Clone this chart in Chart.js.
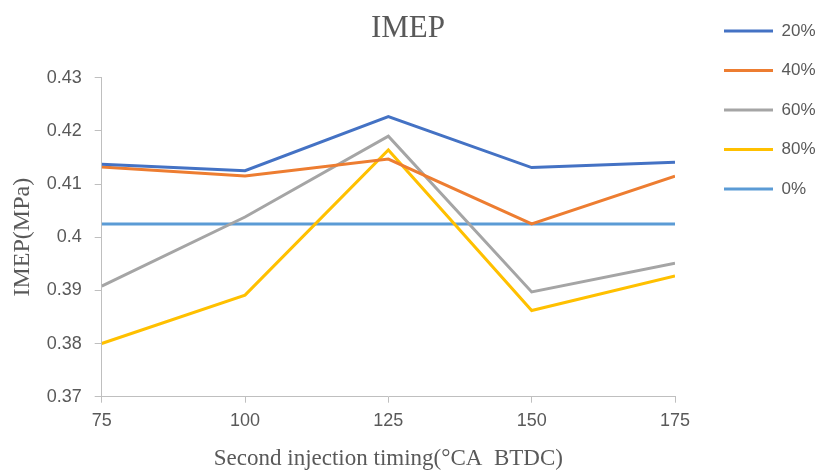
<!DOCTYPE html>
<html>
<head>
<meta charset="utf-8">
<script src="https://cdn.jsdelivr.net/npm/chart.js@4"></script>
<style>
  body { margin: 0; background: #fff; }
</style>
</head>
<body>
<canvas id="chart" width="816" height="473"></canvas>
<script>
var timing = [75, 100, 125, 150, 175];
var imep20 = [0.4137, 0.4125, 0.4227, 0.4131, 0.4141];
var imep40 = [0.4132, 0.4115, 0.4147, 0.4025, 0.4115];
var imep60 = [0.3908, 0.4038, 0.4190, 0.3897, 0.3951];
var imep80 = [0.3800, 0.3891, 0.4164, 0.3862, 0.3927];
var imep0 = [0.4025, 0.4025, 0.4025, 0.4025, 0.4025];
var xTicks = [75, 100, 125, 150, 175];
var yTicks = [0.37, 0.38, 0.39, 0.4, 0.41, 0.42, 0.43];

var sans = "'Liberation Sans', Arial, sans-serif";
var serif = "'Liberation Serif', 'Times New Roman', serif";

function points(arr) {
  return timing.map(function (t, i) {
    return { x: t, y: arr[i] };
  });
}

function series(label, arr, color) {
  return {
    label: label,
    data: points(arr),
    borderColor: color,
    backgroundColor: color,
    borderWidth: 3,
    pointRadius: 0,
    tension: 0,
  };
}

var ctx = document.getElementById("chart").getContext("2d");

const chart = new Chart(ctx, {
  type: "line",
  data: {
    datasets: [
      series("20%", imep20, "#4472C4"),
      series("40%", imep40, "#ED7D31"),
      series("60%", imep60, "#A5A5A5"),
      series("80%", imep80, "#FFC000"),
      series("0%", imep0, "#5B9BD5"),
    ],
  },
  options: {
    responsive: false,
    animation: false,
    layout: { padding: 0 },
    plugins: {
      title: {
        display: true,
        text: "IMEP",
        color: "#595959",
        font: { family: serif, size: 31, weight: "normal" },
        padding: { top: 10.2, bottom: 30.3 },
      },
      legend: {
        position: "right",
        align: "start",
        maxWidth: 114.5,
        labels: {
          usePointStyle: true,
          pointStyle: "line",
          pointStyleWidth: 49,
          boxHeight: 17,
          padding: 22.5,
          color: "#595959",
          font: { family: sans, size: 17 },
        },
      },
      tooltip: { enabled: false },
    },
    scales: {
      x: {
        type: "linear",
        min: 75,
        max: 175,
        afterBuildTicks: function (s) {
          s.ticks = xTicks.map(function (v) { return { value: v }; });
        },
        afterFit: function (s) { s.height = 76.3; },
        ticks: {
          color: "#595959",
          font: { family: sans, size: 18 },
          padding: 8,
          maxRotation: 0,
        },
        grid: {
          drawOnChartArea: false,
          drawTicks: true,
          tickLength: 6,
          color: "#BFBFBF",
        },
        border: { color: "#BFBFBF" },
        title: {
          display: true,
          text: "Second injection timing(°CA  BTDC)",
          color: "#595959",
          font: { family: serif, size: 23 },
          padding: { top: 13, bottom: 0 },
        },
      },
      y: {
        min: 0.37,
        max: 0.43,
        afterBuildTicks: function (s) {
          s.ticks = yTicks.map(function (v) { return { value: v }; });
        },
        afterFit: function (s) { s.width = 101.7; },
        ticks: {
          color: "#595959",
          font: { family: sans, size: 18 },
          padding: 13,
          callback: function (v) { return String(+v.toFixed(2)); },
        },
        grid: {
          drawOnChartArea: false,
          drawTicks: true,
          tickLength: 7,
          color: "#BFBFBF",
        },
        border: { color: "#BFBFBF" },
        title: {
          display: true,
          text: "IMEP(MPa)",
          color: "#595959",
          font: { family: serif, size: 24 },
          padding: { top: 8.6, bottom: 0 },
        },
      },
      // empty strip between plot and legend
      gap: {
        position: "right",
        display: true,
        afterFit: function (s) { s.width = 26.5; },
        ticks: { display: false },
        grid: { display: false },
        border: { display: false },
      },
    },
  },
});
</script>
</body>
</html>
